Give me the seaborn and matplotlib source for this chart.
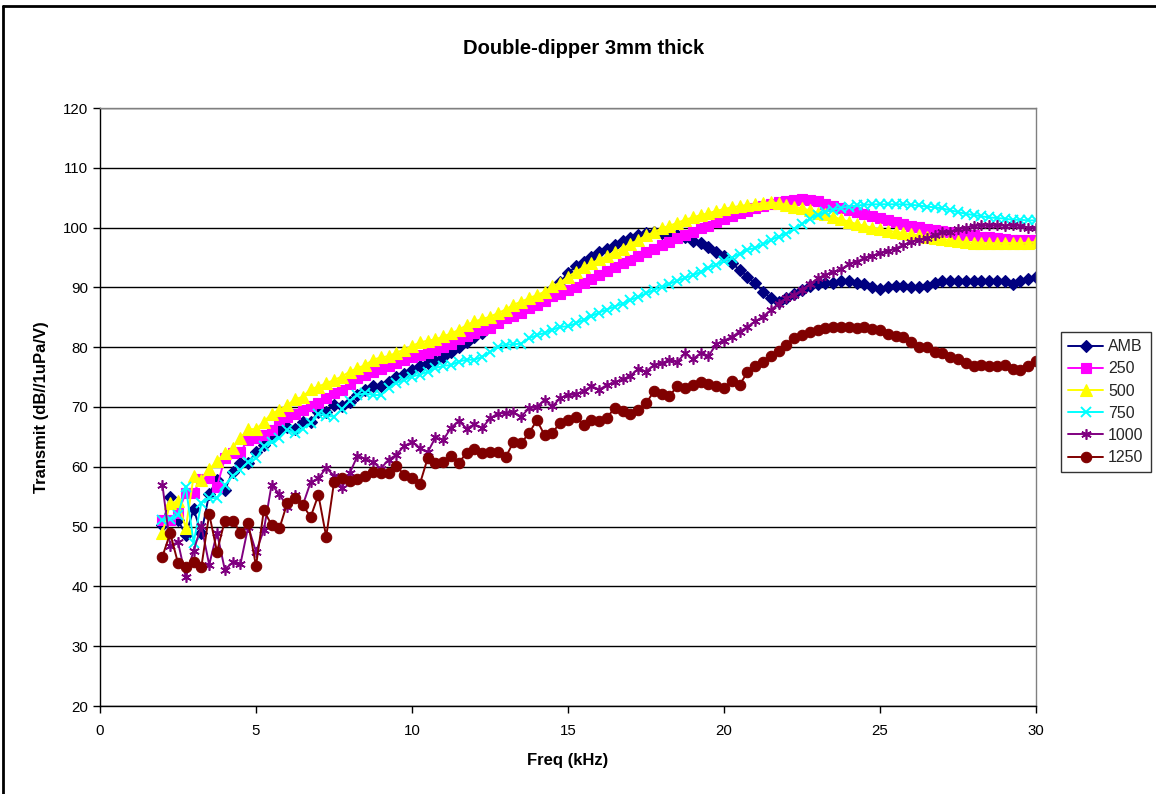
import numpy as np
import pandas as pd
import matplotlib
matplotlib.use("Agg")
import matplotlib.pyplot as plt
import seaborn as sns
from matplotlib.lines import Line2D

# ---------------- data ----------------
freq = np.arange(2.0, 30.001, 0.25)  # kHz sample grid

amb = [50.3, 55.0, 51.1, 48.6, 52.9, 48.9, 55.5, 57.8, 56.1, 59.2, 60.6, 60.7,
       62.4, 63.6, 65.0, 66.2, 66.7, 66.4, 67.5, 67.5, 69.2, 69.2, 70.3, 70.1,
       70.9, 72.0, 72.8, 73.5, 73.5, 74.2, 75.0, 75.5, 76.2, 76.9, 77.3, 77.7,
       78.4, 79.2, 80.1, 80.9, 81.7, 82.3, 83.4, 84.4, 85.1, 85.7, 86.1, 86.9,
       87.9, 88.6, 89.8, 90.9, 92.4, 93.5, 94.3, 95.1, 95.9, 96.5, 97.1, 97.8,
       98.2, 98.8, 99.1, 99.2, 99.1, 99.1, 98.8, 98.5, 97.8, 97.4, 96.8, 96.0,
       95.3, 94.1, 92.9, 91.8, 90.7, 89.3, 88.2, 87.6, 88.2, 88.9, 89.6, 90.2,
       90.6, 90.8, 90.8, 91.0, 91.0, 90.8, 90.6, 90.0, 89.7, 90.0, 90.2, 90.2,
       90.0, 90.0, 90.2, 90.8, 91.1, 91.1, 91.1, 91.1, 91.1, 91.1, 91.1, 91.0,
       91.0, 90.6, 91.1, 91.4, 91.7]

p250 = [51.1, 51.1, 52.2, 55.7, 55.7, 58.0, 58.2, 56.7, 61.4, 62.3, 62.5, 64.5,
        64.8, 65.3, 66.2, 67.8, 68.4, 68.9, 69.5, 70.1, 70.6, 71.5, 72.3, 72.9,
        73.8, 74.8, 75.4, 75.8, 76.3, 76.9, 77.3, 77.9, 78.3, 78.7, 79.1, 79.5,
        80.0, 80.6, 81.3, 81.9, 82.3, 82.9, 83.2, 84.0, 84.8, 85.2, 85.8, 86.5,
        87.1, 87.8, 88.5, 88.9, 89.5, 90.1, 90.8, 91.4, 92.1, 92.8, 93.4, 94.1,
        94.6, 95.3, 96.0, 96.5, 97.1, 97.6, 98.2, 98.7, 99.3, 99.9, 100.3, 100.9,
        101.5, 101.9, 102.4, 102.8, 103.2, 103.6, 104.0, 104.3, 104.4, 104.6, 104.7, 104.6,
        104.4, 104.0, 103.6, 103.2, 102.9, 102.6, 102.2, 101.9, 101.6, 101.3, 101.0, 100.6,
        100.3, 100.1, 99.8, 99.6, 99.4, 99.2, 99.0, 98.8, 98.7, 98.5, 98.4, 98.2,
        98.1, 98.0, 98.0, 97.9, 97.9]

p500 = [48.9, 53.9, 54.2, 49.7, 58.4, 57.8, 59.6, 60.9, 62.3, 63.1, 64.8, 66.3,
        66.3, 67.5, 68.9, 69.5, 70.3, 71.3, 71.7, 73.0, 73.4, 74.0, 74.5, 75.1,
        75.9, 76.5, 77.0, 77.9, 78.3, 78.5, 79.1, 79.6, 80.2, 80.8, 81.1, 81.3,
        81.8, 82.3, 82.9, 83.7, 84.3, 84.7, 85.1, 85.7, 86.3, 87.1, 87.6, 88.2,
        88.7, 89.3, 90.2, 90.8, 91.8, 92.6, 93.4, 94.0, 94.7, 95.2, 96.0, 96.5,
        97.3, 97.9, 98.7, 99.2, 99.9, 100.3, 100.8, 101.3, 101.7, 102.1, 102.4, 102.8,
        103.1, 103.4, 103.6, 103.8, 103.9, 104.1, 104.2, 104.1, 103.8, 103.5, 103.2, 102.9,
        102.5, 102.2, 101.8, 101.4, 101.0, 100.6, 100.3, 100.0, 99.7, 99.5, 99.3, 99.1,
        98.9, 98.7, 98.5, 98.3, 98.1, 97.9, 97.7, 97.6, 97.5, 97.5, 97.4, 97.4,
        97.4, 97.4, 97.4, 97.5, 97.6]

p750 = [51.1, 51.2, 51.9, 56.7, 47.3, 54.0, 54.7, 54.8, 56.9, 58.5, 59.5, 60.8,
        61.4, 63.4, 64.2, 64.8, 66.2, 65.6, 66.4, 67.3, 68.9, 68.5, 68.4, 69.6,
        71.0, 72.0, 72.3, 72.0, 72.0, 73.1, 74.0, 74.5, 75.1, 75.4, 75.9, 76.5,
        76.9, 77.0, 77.6, 77.9, 77.9, 78.4, 79.2, 80.1, 80.4, 80.5, 80.6, 81.5,
        82.0, 82.4, 82.9, 83.4, 83.5, 84.0, 84.6, 85.2, 85.8, 86.3, 86.8, 87.3,
        87.9, 88.4, 89.0, 89.6, 90.0, 90.6, 91.1, 91.6, 92.0, 92.6, 93.3, 93.8,
        94.4, 95.0, 95.6, 96.3, 96.6, 97.2, 97.9, 98.5, 99.0, 99.7, 100.6, 101.5,
        102.1, 102.6, 103.0, 103.3, 103.5, 103.7, 103.8, 103.9, 103.9, 103.9, 103.9, 103.9,
        103.8, 103.7, 103.5, 103.4, 103.2, 102.9, 102.6, 102.3, 102.1, 101.9, 101.7, 101.6,
        101.5, 101.3, 101.3, 101.2, 101.2]

p1000 = [57.0, 46.8, 47.4, 41.5, 46.0, 50.1, 43.6, 49.0, 42.8, 44.0, 43.7, 50.0,
         45.8, 49.4, 57.0, 55.4, 53.3, 55.3, 53.6, 57.4, 58.1, 59.8, 58.5, 56.5,
         58.9, 61.8, 61.3, 60.8, 59.7, 61.2, 62.0, 63.5, 64.1, 63.2, 62.4, 64.9,
         64.5, 66.5, 67.7, 66.4, 67.1, 66.5, 68.1, 68.9, 69.0, 69.1, 68.4, 69.8,
         70.0, 71.2, 70.1, 71.5, 72.0, 72.1, 72.6, 73.5, 72.9, 73.7, 74.1, 74.6,
         75.2, 76.4, 75.9, 77.0, 77.3, 77.8, 77.5, 79.0, 78.0, 79.0, 78.5, 80.5,
         81.1, 81.7, 82.6, 83.4, 84.3, 85.1, 86.2, 87.3, 88.2, 88.7, 89.6, 90.5,
         91.5, 92.1, 92.6, 93.0, 93.9, 94.3, 94.9, 95.3, 95.7, 96.1, 96.5, 97.1,
         97.6, 98.0, 98.2, 98.8, 99.2, 99.3, 99.7, 100.0, 100.3, 100.4, 100.4, 100.4,
         100.3, 100.4, 100.3, 100.0, 99.9]

p1250 = [45.0, 48.9, 43.9, 43.3, 44.0, 43.3, 52.1, 45.8, 51.0, 51.0, 49.0, 50.6,
         43.4, 52.7, 50.3, 49.7, 53.9, 54.7, 53.6, 51.6, 55.3, 48.3, 57.4, 58.1,
         57.7, 57.9, 58.5, 59.2, 59.0, 58.9, 60.2, 58.6, 58.2, 57.1, 61.4, 60.6,
         60.8, 61.8, 60.7, 62.3, 63.0, 62.3, 62.4, 62.5, 61.6, 64.1, 64.0, 65.6,
         67.8, 65.3, 65.7, 67.4, 67.9, 68.4, 67.0, 67.8, 67.7, 68.2, 69.9, 69.3,
         68.9, 69.5, 70.6, 72.6, 72.2, 71.8, 73.5, 73.1, 73.7, 74.1, 73.8, 73.5,
         73.1, 74.4, 73.7, 75.8, 76.9, 77.6, 78.6, 79.4, 80.4, 81.5, 82.0, 82.6,
         82.9, 83.2, 83.4, 83.4, 83.3, 83.2, 83.3, 83.0, 82.9, 82.2, 81.8, 81.7,
         80.9, 80.1, 80.0, 79.2, 79.0, 78.4, 78.0, 77.3, 76.9, 77.0, 76.9, 76.9,
         77.0, 76.3, 76.2, 76.9, 77.7]

series_names = ["AMB", "250", "500", "750", "1000", "1250"]
series_values = [amb, p250, p500, p750, p1000, p1250]

x_ticks = [0, 5, 10, 15, 20, 25, 30]
y_ticks = [20, 30, 40, 50, 60, 70, 80, 90, 100, 110, 120]

# ---------------- styles ----------------
styles = {
    "AMB":  dict(color="#000080", marker="D", markersize=6.0, markeredgewidth=0.8),
    "250":  dict(color="#FF00FF", marker="s", markersize=7.0, markeredgewidth=0.8),
    "500":  dict(color="#FFFF00", marker="^", markersize=8.0, markeredgewidth=0.8),
    "750":  dict(color="#00FFFF", marker="x", markersize=6.5, markeredgewidth=1.4),
    "1000": dict(color="#800080", marker=(6, 2, 0), markersize=7.5, markeredgewidth=1.2),
    "1250": dict(color="#800000", marker="o", markersize=7.5, markeredgewidth=0.8),
}

sns.set_theme(style="white")
plt.rcParams["font.family"] = ["Liberation Sans", "DejaVu Sans"]

W, H = 1156, 794
fig = plt.figure(figsize=(W / 100, H / 100), dpi=100)
fig.patch.set_facecolor("white")
ax = fig.add_axes([100 / W, 1 - 706 / H, (1036 - 100) / W, (706 - 108) / H])

df = pd.DataFrame({"freq": np.tile(freq, len(series_names)),
                   "value": np.concatenate([np.asarray(v, float) for v in series_values]),
                   "series": np.repeat(series_names, len(freq))})

for name in series_names:
    st = styles[name]
    sub = df[df["series"] == name]
    sns.lineplot(data=sub, x="freq", y="value", ax=ax, label=name,
                 color=st["color"], marker=st["marker"], markersize=st["markersize"],
                 markeredgecolor=st["color"], markerfacecolor=st["color"],
                 markeredgewidth=st["markeredgewidth"], linewidth=1.4,
                 estimator=None, sort=False)

ax.set_xlim(0, 30)
ax.set_ylim(20, 120)
ax.set_xticks(x_ticks)
ax.set_yticks(y_ticks)
ax.set_xticklabels([str(t) for t in x_ticks])
ax.set_yticklabels([str(t) for t in y_ticks])

ax.set_axisbelow(True)
ax.yaxis.grid(True, color="black", linewidth=1.0)
ax.xaxis.grid(False)
for s in ["left", "bottom"]:
    ax.spines[s].set_color("black")
    ax.spines[s].set_linewidth(1.0)
for s in ["top", "right"]:
    ax.spines[s].set_color("#808080")
    ax.spines[s].set_linewidth(1.0)

ax.tick_params(axis="both", direction="out", length=5, width=1, color="black",
               labelsize=10.8, labelcolor="black")
ax.tick_params(axis="x", pad=8, bottom=True)
ax.tick_params(axis="y", pad=3.5, left=True)

ax.set_xlabel("Freq (kHz)", fontsize=12, fontweight="bold", labelpad=11, color="black")
ax.set_ylabel("Transmit (dB//1uPa/V)", fontsize=12, fontweight="bold", labelpad=10, color="black")

fig.text(584 / W, 1 - 48 / H, "Double-dipper 3mm thick", ha="center", va="center",
         fontsize=14.5, fontweight="bold", color="black")

leg = ax.legend(loc="upper left", bbox_to_anchor=(1061 / W, 1 - 332 / H),
                bbox_transform=fig.transFigure, borderaxespad=0, frameon=True,
                fancybox=False, shadow=False, fontsize=11.5, handlelength=2.2,
                handletextpad=0.3, labelspacing=0.45, borderpad=0.45)
leg.get_frame().set_edgecolor("black")
leg.get_frame().set_linewidth(1.0)

# outer frame of the figure (top and left edges visible)
fig.add_artist(Line2D([3 / W, 3 / W], [0, 1 - 6 / H], transform=fig.transFigure,
                      color="black", linewidth=2.0))
fig.add_artist(Line2D([3 / W, 1], [1 - 6 / H, 1 - 6 / H], transform=fig.transFigure,
                      color="black", linewidth=2.0))

fig.savefig("out.png", dpi=100, facecolor="white")
